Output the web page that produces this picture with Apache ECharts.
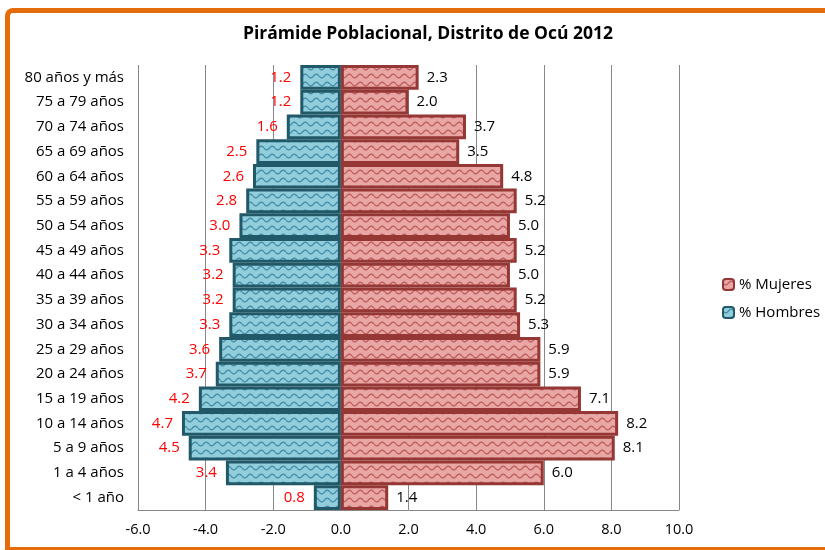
<!DOCTYPE html>
<html>
<head>
<meta charset="utf-8">
<script src="https://cdn.jsdelivr.net/npm/echarts@6/dist/echarts.min.js"></script>
<style>
  html, body { margin: 0; padding: 0; background: #fff; }
  #frame { position: absolute; left: 5px; top: 8px; width: 830px; height: 534px;
           border: 5px solid #e46c0a; border-right: none; border-top-left-radius: 8px; }
  #chart { position: absolute; left: 0; top: 0; width: 825px; height: 550px; }
</style>
</head>
<body>
<div id="frame"></div>
<div id="chart"></div>
<script>
var grupos = ['< 1 año', '1 a 4 años', '5 a 9 años', '10 a 14 años', '15 a 19 años', '20 a 24 años',
  '25 a 29 años', '30 a 34 años', '35 a 39 años', '40 a 44 años', '45 a 49 años', '50 a 54 años',
  '55 a 59 años', '60 a 64 años', '65 a 69 años', '70 a 74 años', '75 a 79 años', '80 años y más'];
var mujeres = [1.4, 6.0, 8.1, 8.2, 7.1, 5.9, 5.9, 5.3, 5.2, 5.0, 5.2, 5.0, 5.2, 4.8, 3.5, 3.7, 2.0, 2.3];
var hombres = [0.8, 3.4, 4.5, 4.7, 4.2, 3.7, 3.6, 3.3, 3.2, 3.2, 3.3, 3.0, 2.8, 2.6, 2.5, 1.6, 1.2, 1.2];
var ticksX = { min: -6, max: 10, interval: 2 };

// patron ondulado (tipo Excel)
function wavePattern(bg, fg) {
  var c = document.createElement('canvas');
  c.width = 11; c.height = 8;
  var ctx = c.getContext('2d');
  ctx.fillStyle = bg;
  ctx.fillRect(0, 0, 11, 8);
  ctx.strokeStyle = fg;
  ctx.lineWidth = 1.4;
  ctx.beginPath();
  for (var x = 0; x <= 11; x += 0.5) {
    var y = 4 + 1.8 * Math.sin(x / 11 * Math.PI * 2);
    if (x == 0) ctx.moveTo(x, y); else ctx.lineTo(x, y);
  }
  ctx.stroke();
  return { image: c, repeat: 'repeat' };
}

var fillM = wavePattern('#e8a6a5', '#bf5f5d');
var fillH = wavePattern('#92cddc', '#4490a8');

var font = '"Open Sans", sans-serif';
var chart = echarts.init(document.getElementById('chart'));
var option = {
  animation: false,
  title: {
    text: 'Pirámide Poblacional, Distrito de Ocú 2012',
    left: 423, top: 20, textAlign: 'center',
    textStyle: { fontFamily: font, fontSize: 17.5, fontWeight: 'bold', color: '#000' }
  },
  legend: {
    orient: 'vertical', left: 717, top: 272, itemGap: 13,
    itemWidth: 11, itemHeight: 11,
    textStyle: { fontFamily: font, fontSize: 15, color: '#000' },
    data: ['% Mujeres', '% Hombres']
  },
  grid: { left: 138, right: 146, top: 65, bottom: 40 },
  xAxis: {
    type: 'value', min: ticksX.min, max: ticksX.max, interval: ticksX.interval,
    axisLine: { show: true, lineStyle: { color: '#888' } },
    axisTick: { show: false },
    splitLine: { lineStyle: { color: '#888' } },
    axisLabel: { fontFamily: font, fontSize: 14.5, color: '#000', margin: 12,
      formatter: function (v) { return v.toFixed(1); } }
  },
  yAxis: {
    type: 'category', data: grupos,
    axisLine: { show: false }, axisTick: { show: false },
    axisLabel: { fontFamily: font, fontSize: 15, color: '#000', margin: 14 }
  },
  series: [
    {
      name: '% Mujeres', type: 'bar', stack: 'p', barCategoryGap: '0%',
      data: mujeres,
      itemStyle: { color: fillM, borderColor: '#953735', borderWidth: 3 },
      label: { show: true, position: 'right', distance: 8, fontFamily: font, fontSize: 15, color: '#000',
        formatter: function (p) { return p.value.toFixed(1); } }
    },
    {
      name: '% Hombres', type: 'bar', stack: 'p', barCategoryGap: '0%',
      data: hombres.map(function (v) { return -v; }),
      itemStyle: { color: fillH, borderColor: '#215968', borderWidth: 3 },
      label: { show: true, position: 'left', distance: 9, fontFamily: font, fontSize: 15, color: '#ff0000',
        formatter: function (p) { return (-p.value).toFixed(1); } }
    }
  ]
};
chart.setOption(option);
</script>
</body>
</html>
